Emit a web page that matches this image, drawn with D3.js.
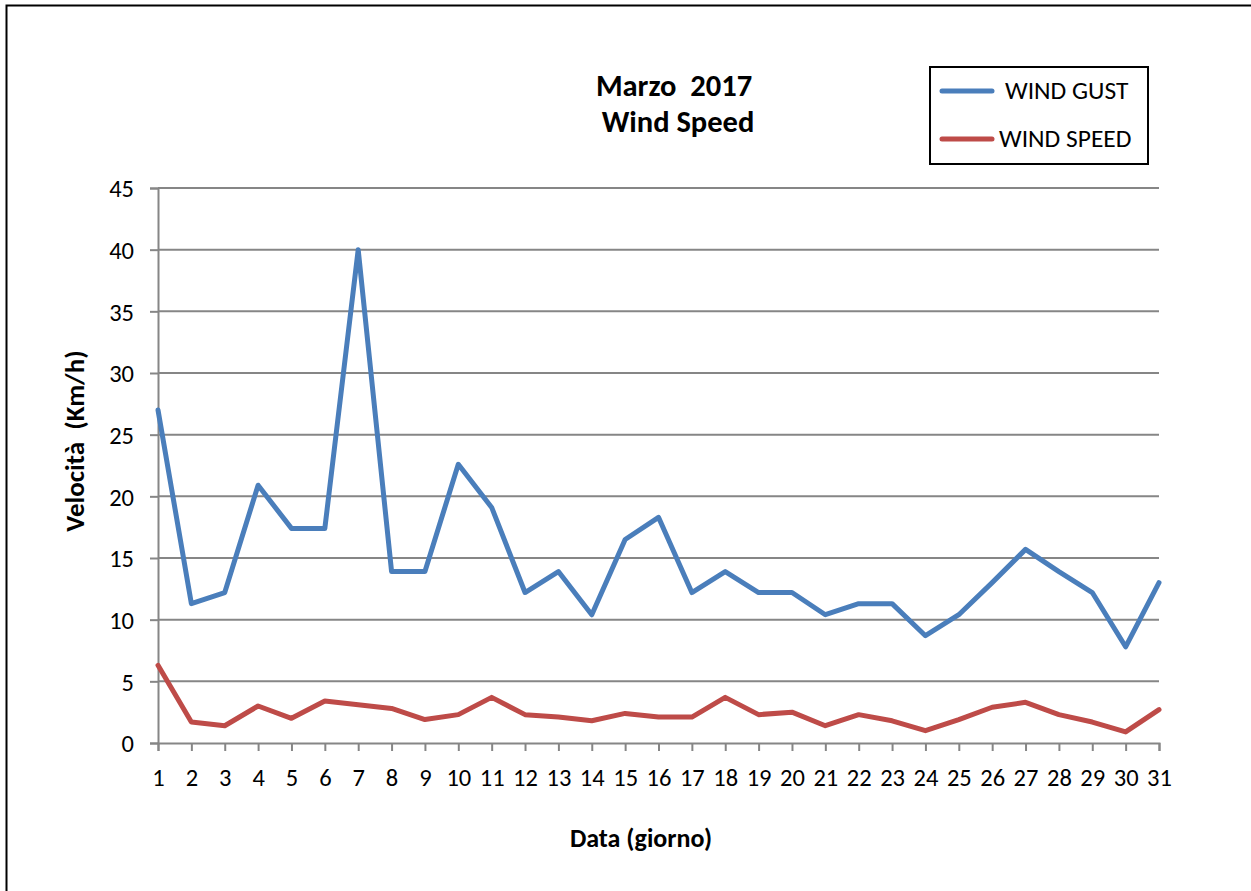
<!DOCTYPE html>
<html>
<head>
<meta charset="utf-8">
<script src="https://cdnjs.cloudflare.com/ajax/libs/d3/7.8.5/d3.min.js"></script>
<style>
  body { margin: 0; background: #fff; }
  svg { display: block; font-family: Carlito, Lato, sans-serif; }
</style>
</head>
<body>
<svg></svg>
<script>
let width = 1251, height = 891;

// March 2017, day of month
let days = d3.range(1, 32);

let windGust = [27.0, 11.3, 12.2, 20.9, 17.4, 17.4, 40.0, 13.9, 13.9, 22.6,
                19.1, 12.2, 13.9, 10.4, 16.5, 18.3, 12.2, 13.9, 12.2, 12.2,
                10.4, 11.3, 11.3, 8.7, 10.4, 13.0, 15.7, 13.9, 12.2, 7.8, 13.0];

let windSpeed = [6.3, 1.7, 1.4, 3.0, 2.0, 3.4, 3.1, 2.8, 1.9, 2.3,
                 3.7, 2.3, 2.1, 1.8, 2.4, 2.1, 2.1, 3.7, 2.3, 2.5,
                 1.4, 2.3, 1.8, 1.0, 1.9, 2.9, 3.3, 2.3, 1.7, 0.9, 2.7];

let yTicks = [0, 5, 10, 15, 20, 25, 30, 35, 40, 45];

let series = [
    { name: "WIND GUST", values: windGust, color: "#4a7ebb" },
    { name: "WIND SPEED", values: windSpeed, color: "#be4b48" }
];

let svg = d3.select("svg")
    .attr("width", width)
    .attr("height", height);

// outer chart border (runs off the right and bottom edges)
svg.append("rect")
    .attr("x", 6.5).attr("y", 5.5)
    .attr("width", 1300).attr("height", 950)
    .attr("fill", "#fff")
    .attr("stroke", "#000")
    .attr("stroke-width", 2);

let x = d3.scaleLinear().domain([1, 31]).range([158, 1159]);
let y = d3.scaleLinear().domain([0, 45]).range([743, 188]);

// gridlines
svg.append("g")
    .selectAll("line")
    .data(yTicks.filter(d => d > 0))
    .enter()
    .append("line")
    .attr("x1", x(1)).attr("x2", x(31))
    .attr("y1", d => y(d)).attr("y2", d => y(d))
    .attr("stroke", "#868686")
    .attr("stroke-width", 2);

// y axis
let yAxis = svg.append("g")
    .attr("transform", "translate(" + x(1) + ",0)")
    .call(d3.axisLeft(y).tickValues(yTicks).tickSize(8).tickPadding(16));

// x axis
let xAxis = svg.append("g")
    .attr("transform", "translate(0," + y(0) + ")")
    .call(d3.axisBottom(x).tickValues(days).tickSize(8).tickPadding(18));

[yAxis, xAxis].forEach(ax => {
    ax.attr("font-size", null).attr("font-family", null);
    ax.select(".domain").attr("stroke", "#868686").attr("stroke-width", 2);
    ax.selectAll(".tick line").attr("stroke", "#868686").attr("stroke-width", 2);
    ax.selectAll(".tick text")
        .attr("fill", "#000")
        .style("font-size", "24.5px");
});
yAxis.selectAll(".tick text").attr("dy", "0.36em");

// lines
let line = d3.line()
    .x((d, i) => x(days[i]))
    .y(d => y(d));

svg.append("g")
    .selectAll("path")
    .data(series)
    .enter()
    .append("path")
    .attr("d", d => line(d.values))
    .attr("fill", "none")
    .attr("stroke", d => d.color)
    .attr("stroke-width", 5)
    .attr("stroke-linejoin", "round")
    .attr("stroke-linecap", "round");

// title
let title = svg.append("text")
    .attr("text-anchor", "middle")
    .style("font-size", "30.5px")
    .style("font-weight", "bold");
title.append("tspan").attr("x", 674).attr("y", 96).attr("xml:space", "preserve").text("Marzo  2017");
title.append("tspan").attr("x", 678).attr("y", 132).text("Wind Speed");

// axis titles
svg.append("text")
    .attr("transform", "translate(84,441) rotate(-90)")
    .attr("text-anchor", "middle")
    .attr("xml:space", "preserve")
    .style("font-size", "27px")
    .style("font-weight", "bold")
    .text("Velocità  (Km/h)");

svg.append("text")
    .attr("x", 641).attr("y", 847)
    .attr("text-anchor", "middle")
    .style("font-size", "26px")
    .style("font-weight", "bold")
    .text("Data (giorno)");

// legend
let legend = svg.append("g");
legend.append("rect")
    .attr("x", 930).attr("y", 67)
    .attr("width", 218).attr("height", 97)
    .attr("fill", "#fff")
    .attr("stroke", "#000")
    .attr("stroke-width", 2);

let item = legend.selectAll(".item")
    .data(series)
    .enter()
    .append("g")
    .attr("transform", (d, i) => "translate(0," + (91 + i * 48) + ")");

item.append("line")
    .attr("x1", 942).attr("x2", 992)
    .attr("stroke", d => d.color)
    .attr("stroke-width", 5)
    .attr("stroke-linecap", "round");

item.append("text")
    .attr("x", (d, i) => i == 0 ? 1005 : 999)
    .attr("y", 8)
    .style("font-size", "25.5px")
    .text(d => d.name);
</script>
</body>
</html>
